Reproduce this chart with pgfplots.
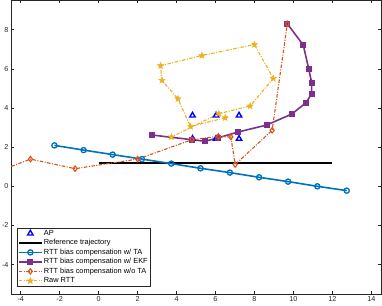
\documentclass[border=0pt]{standalone}
\usepackage{fontspec}
\setmainfont{Liberation Sans}
\usepackage{pgfplots}
\pgfplotsset{compat=1.18}
\usetikzlibrary{plotmarks}
\definecolor{mblue}{RGB}{0,114,189}
\definecolor{morange}{RGB}{217,83,25}
\definecolor{myellow}{RGB}{237,177,32}
\definecolor{mpurple}{RGB}{126,47,142}
\definecolor{axgray}{RGB}{38,38,38}
\pgfdeclareplotmark{fstar}{%
  \pgfpathmoveto{\pgfpointpolar{90}{1.15\pgfplotmarksize}}%
  \pgfpathlineto{\pgfpointpolar{126}{0.5\pgfplotmarksize}}%
  \pgfpathlineto{\pgfpointpolar{162}{1.15\pgfplotmarksize}}%
  \pgfpathlineto{\pgfpointpolar{198}{0.5\pgfplotmarksize}}%
  \pgfpathlineto{\pgfpointpolar{234}{1.15\pgfplotmarksize}}%
  \pgfpathlineto{\pgfpointpolar{270}{0.5\pgfplotmarksize}}%
  \pgfpathlineto{\pgfpointpolar{306}{1.15\pgfplotmarksize}}%
  \pgfpathlineto{\pgfpointpolar{342}{0.5\pgfplotmarksize}}%
  \pgfpathlineto{\pgfpointpolar{18}{1.15\pgfplotmarksize}}%
  \pgfpathlineto{\pgfpointpolar{54}{0.5\pgfplotmarksize}}%
  \pgfpathclose\pgfusepathqfillstroke}
\begin{document}
\begin{tikzpicture}
\begin{axis}[
  scale only axis,
  width=370pt, height=293.7pt,
  xmin=-4.5, xmax=14.5, ymin=-5.5, ymax=9.5,
  xtick={-4,-2,...,14}, ytick={-4,-2,...,8},
  tick align=inside,
  major tick length=3pt,
  axis line style={axgray, line width=0.5pt},
  tick style={axgray, line width=0.5pt},
  ticklabel style={font=\fontsize{7.2}{8}\selectfont, text=axgray},
  /pgf/number format/assume math mode=true,
  xticklabel style={yshift=1pt},
  yticklabel style={xshift=1pt},
  legend cell align=left,
  legend style={at={(axis cs:-4.2,-5.13)}, anchor=south west,
    font=\fontsize{7.4}{8}\selectfont, draw=axgray, line width=0.4pt,
    inner sep=1pt, row sep=0.2pt,
    nodes={inner sep=1.2pt, text height=5.4pt, text depth=1.5pt}},
  legend image code/.code={\draw[mark repeat=2,mark phase=2] plot coordinates {(0pt,0pt) (11.5pt,0pt) (23pt,0pt)};},
]
% AP
\addplot[only marks, mark=triangle, mark size=3.1pt, blue, line width=1.4pt]
  coordinates {(4.82,3.62) (6.03,3.62) (7.21,3.62) (4.82,2.43) (6.03,2.43) (7.21,2.43)};
\addlegendentry{AP}
% Reference trajectory
\addplot[black, line width=1.5pt] coordinates {(0,1.2) (12,1.2)};
\addlegendentry{Reference trajectory}
% w/ TA
\addplot[mblue, line width=1.6pt, mark=o, mark size=2.6pt, mark options={line width=1.3pt}]
  coordinates {(-2.27,2.09) (-0.77,1.85) (0.72,1.62) (2.22,1.39) (3.73,1.16) (5.23,0.92)
   (6.74,0.70) (8.24,0.46) (9.73,0.24) (11.23,0.00) (12.74,-0.22)};
\addlegendentry{RTT bias compensation w/ TA}
% w/ EKF
\addplot[mpurple, line width=1.6pt, mark=square*, mark size=2.5pt, mark options={line width=0.8pt}]
  coordinates {(2.74,2.62) (4.79,2.38) (5.47,2.30) (6.15,2.48) (7.15,2.77) (8.63,3.13) (9.92,3.69)
   (10.65,4.27) (10.94,4.73) (10.94,5.29) (10.79,5.99) (10.51,7.21) (9.69,8.30)};
\addlegendentry{RTT bias compensation w/ EKF}
% w/o TA
\addplot[morange, line width=1.1pt, dash pattern=on 3.5pt off 1.5pt on 1pt off 1.5pt,
   mark=diamond, mark size=2.7pt, mark options={solid, line width=1.1pt}]
  coordinates {(-5.2,0.74) (-3.50,1.39) (-1.21,0.90) (2.0,1.39) (4.79,2.38) (6.15,2.55)
   (6.79,2.52) (7.01,1.11) (8.91,2.86) (9.69,8.30)};
\addlegendentry{RTT bias compensation w/o TA}
% Raw RTT
\addplot[myellow, line width=1.1pt, dash pattern=on 3.5pt off 1.5pt on 1pt off 1.5pt,
   mark=fstar, mark size=2.8pt, mark options={solid, line width=0.5pt}]
  coordinates {(6.50,3.50) (4.72,3.05) (4.07,4.47) (3.25,5.41) (3.18,6.16) (5.30,6.68)
   (8.00,7.24) (8.97,5.51) (7.78,4.10) (6.17,3.71) (3.74,2.52)};
\addlegendentry{Raw RTT}
\end{axis}
\pgfresetboundingbox
\path[use as bounding box] ([shift={(-11pt,-11.5pt)}]current axis.south west) rectangle ([shift={(1pt,0.3pt)}]current axis.north east);
\end{tikzpicture}
\end{document}
